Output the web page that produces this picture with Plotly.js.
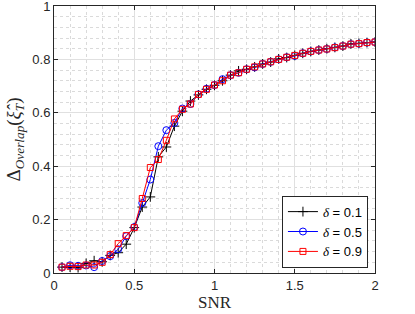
<!DOCTYPE html>
<html>
<head>
<meta charset="utf-8">
<script src="https://cdn.plot.ly/plotly-3.0.1.min.js"></script>
<style>html,body{margin:0;padding:0;background:#fff;}#chart{width:415px;height:314px;}</style>
</head>
<body>
<div id="chart"></div>
<script>
var snr = [0.05,0.1,0.15,0.2,0.25,0.3,0.35,0.4,0.45,0.5,0.55,0.6,0.65,0.7,0.75,0.8,0.85,0.9,0.95,1.0,
           1.05,1.1,1.15,1.2,1.25,1.3,1.35,1.4,1.45,1.5,1.55,1.6,1.65,1.7,1.75,1.8,1.85,1.9,1.95,2.0];
var delta01 = [0.022,0.022,0.020,0.036,0.046,0.042,0.066,0.076,0.108,0.170,0.247,0.285,0.435,0.472,0.550,0.606,0.644,0.667,0.688,0.703,
               0.720,0.741,0.757,0.763,0.772,0.783,0.790,0.802,0.807,0.815,0.823,0.830,0.835,0.840,0.845,0.850,0.858,0.860,0.863,0.865];
var delta05 = [0.022,0.029,0.027,0.028,0.022,0.045,0.063,0.089,0.138,0.172,0.262,0.350,0.475,0.535,0.562,0.616,0.633,0.669,0.690,0.704,
               0.726,0.741,0.750,0.763,0.770,0.783,0.791,0.800,0.808,0.813,0.823,0.830,0.835,0.839,0.845,0.850,0.857,0.859,0.863,0.865];
var delta09 = [0.022,0.025,0.024,0.030,0.030,0.040,0.069,0.110,0.140,0.170,0.279,0.395,0.425,0.497,0.577,0.613,0.633,0.669,0.688,0.704,
               0.720,0.741,0.750,0.763,0.772,0.783,0.791,0.800,0.808,0.815,0.823,0.830,0.835,0.839,0.844,0.850,0.857,0.859,0.863,0.865];
var seriesNames = ['0.1','0.5','0.9'];
var xTicks = [0,0.5,1,1.5,2];
var xTickText = ['0','0.5','1','1.5','2'];
var yTicks = [0,0.2,0.4,0.6,0.8,1];
var yTickText = ['0','0.2','0.4','0.6','0.8','1'];

function nm(v){ return '<i style="font-family:\'Liberation Serif\',serif">δ</i> = ' + v; }

var traces = [
  {x: snr, y: delta01, name: nm(seriesNames[0]), mode: 'lines+markers', type: 'scatter',
   line: {color: '#000000', width: 1}, marker: {symbol: 'cross-thin-open', size: 7, color: '#000000', line: {color: '#000000', width: 1}}},
  {x: snr, y: delta05, name: nm(seriesNames[1]), mode: 'lines+markers', type: 'scatter',
   line: {color: '#0000ff', width: 1}, marker: {symbol: 'circle-open', size: 7, color: '#0000ff', line: {color: '#0000ff', width: 1}}},
  {x: snr, y: delta09, name: nm(seriesNames[2]), mode: 'lines+markers', type: 'scatter',
   line: {color: '#ff0000', width: 1}, marker: {symbol: 'square-open', size: 6, color: '#ff0000', line: {color: '#ff0000', width: 1}}}
];

var axisCommon = {
  showline: true, mirror: 'ticks', linecolor: '#262626', linewidth: 1,
  ticks: 'inside', ticklen: 4, tickcolor: '#262626',
  showgrid: true, gridcolor: '#e0e0e0', gridwidth: 1, zeroline: false,
  ticklabeloverflow: 'allow',
  tickfont: {family: 'Liberation Sans, Arial, sans-serif', size: 13, color: '#262626'}
};

var layout = {
  width: 415, height: 314,
  margin: {l: 53.5, r: 40, t: 6, b: 41.3},
  paper_bgcolor: '#ffffff', plot_bgcolor: '#ffffff',
  showlegend: true,
  xaxis: Object.assign({}, axisCommon, {
    range: [0, 2], tickvals: xTicks, ticktext: xTickText,
    minor: {dtick: 0.1, showgrid: true, gridcolor: '#dadada', griddash: 'dot', gridwidth: 1, ticks: ''},
    title: {text: 'SNR', font: {family: 'Liberation Serif, serif', size: 17, color: '#262626'}, standoff: 3}
  }),
  yaxis: Object.assign({}, axisCommon, {
    range: [0, 1], tickvals: yTicks, ticktext: yTickText,
    minor: {dtick: 0.04, showgrid: true, gridcolor: '#dadada', griddash: 'dot', gridwidth: 1, ticks: ''},
    title: {text: 'Δ<sub><i>Overlap</i></sub>(<i>ξ̂</i><sub><i>T</i></sub>)', font: {family: 'Liberation Serif, serif', size: 19, color: '#262626'}, standoff: 6}
  }),
  legend: {
    x: 0.978, y: 0.02, xanchor: 'right', yanchor: 'bottom',
    bgcolor: '#ffffff', bordercolor: '#262626', borderwidth: 1,
    font: {family: 'Liberation Sans, Arial, sans-serif', size: 13, color: '#000000'},
    tracegroupgap: 0, itemwidth: 30
  }
};

Plotly.newPlot('chart', traces, layout, {displayModeBar: false, staticPlot: true});
</script>
</body>
</html>
